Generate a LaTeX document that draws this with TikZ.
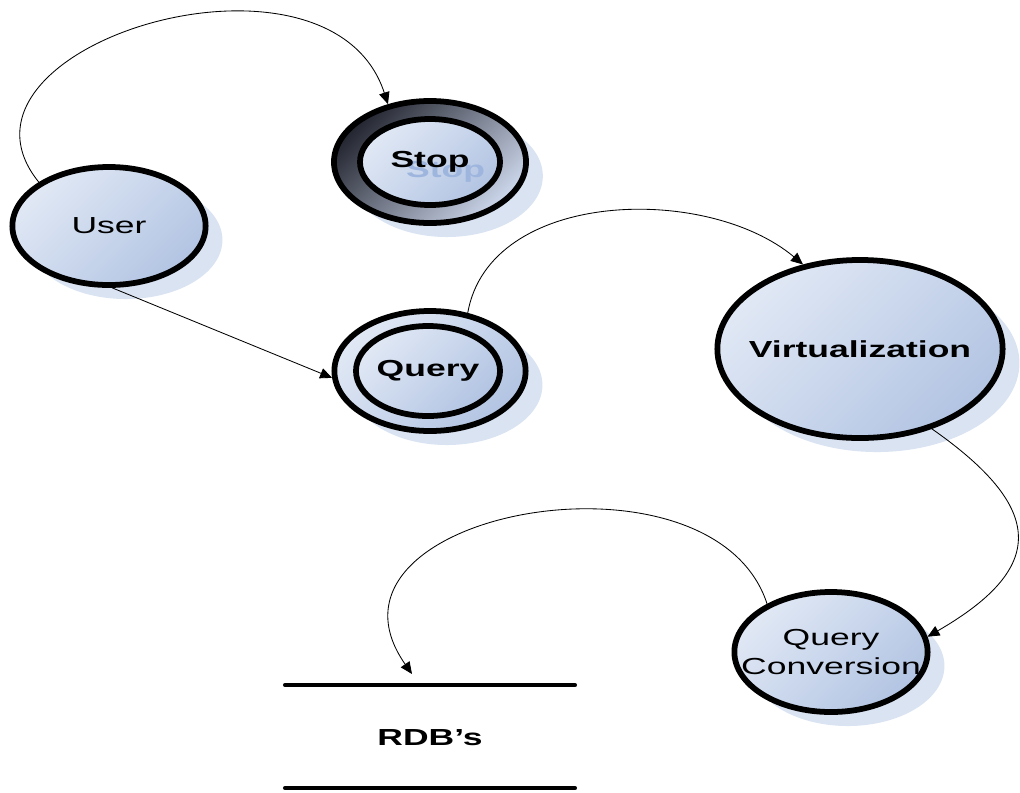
\documentclass[tikz,border=0pt]{standalone}
\usepackage{fontspec}
\setmainfont{Liberation Sans}
\usepackage{graphicx}
\usetikzlibrary{arrows.meta,shapes.geometric,shadows}
\definecolor{lbtop}{rgb}{0.88,0.91,0.96}
\definecolor{lbbot}{rgb}{0.70,0.77,0.89}
\definecolor{shdwc}{rgb}{0.855,0.89,0.95}
\definecolor{ringdk}{rgb}{0.14,0.15,0.19}
\definecolor{ringlt}{rgb}{0.80,0.84,0.92}
\definecolor{ghostc}{rgb}{0.62,0.71,0.87}
\newcommand{\wtxt}[1]{\makebox[0pt]{\scalebox{1.53}[1]{#1}}}
\tikzset{
  stnode/.style={ellipse,draw=black,line width=4.1pt,inner sep=0pt,
    left color=lbtop,right color=lbbot,shading angle=45,
    font=\fontsize{16.5}{21}\selectfont,align=center},
  shadowed/.style={drop shadow={shadow xshift=0.42cm,shadow yshift=-0.35cm,fill=shdwc,opacity=1}},
  conn/.style={->,line width=0.6pt}
}
\begin{document}
\begin{tikzpicture}[line cap=round,line join=round,>={Triangle[length=8.5pt,width=7.5pt]},x=0.025cm,y=0.025cm]
\useasboundingbox (0,0) rectangle (1020,-792);
\node[stnode,shadowed,minimum width=4.83cm,minimum height=2.95cm] (user) at (109,-226) {\wtxt{User}};
\node[stnode,shadowed,left color=ringdk,right color=ringlt,shading angle=45,minimum width=4.8cm,minimum height=3.05cm] (stop) at (430,-162) {};
\node[stnode,minimum width=3.5cm,minimum height=2.15cm,font=\fontsize{16.5}{21}\selectfont\bfseries,
  path picture={\node[text=ghostc,font=\fontsize{16.5}{21}\selectfont\bfseries] at ([xshift=0.39cm,yshift=-0.25cm]path picture bounding box.center) {\wtxt{Stop}};}] (stopin) at (430,-162) {\wtxt{Stop}};
\node[stnode,shadowed,minimum width=4.78cm,minimum height=3.0cm] (query) at (430,-371) {};
\node[stnode,minimum width=3.6cm,minimum height=2.25cm,font=\fontsize{16.5}{21}\selectfont\bfseries] (queryin) at (428,-371) {\wtxt{Query}};
\node[stnode,shadowed,minimum width=7.13cm,minimum height=4.45cm,font=\fontsize{16.5}{21}\selectfont\bfseries] (virt) at (860,-349) {\wtxt{Virtualization}};
\node[stnode,shadowed,minimum width=4.83cm,minimum height=3.0cm] (conv) at (831,-652) {\wtxt{Query}\\\wtxt{Conversion}};
\node[font=\fontsize{16.5}{21}\selectfont\bfseries] (rdb) at (430,-738) {\wtxt{RDB’s}};
\draw[line width=2.9pt] (285,-685) -- (575,-685);
\draw[line width=2.9pt] (285,-788) -- (575,-788);
\coordinate (rdbin) at (412,-674);
\draw[conn] (user.148) to[out=129,in=108,out looseness=1.25,in looseness=1.35] (stop.126);
\draw[conn] (user.-87) -- (query.184);
\draw[conn] (query.57) to[out=80,in=140,looseness=0.95] (virt.124);
\draw[conn] (virt.-48) to[out=-35,in=30,looseness=1.7] (conv.9);
\draw[conn] (conv.143) to[out=108,in=125,out looseness=1.25,in looseness=1.4] (rdbin);
\end{tikzpicture}
\end{document}
